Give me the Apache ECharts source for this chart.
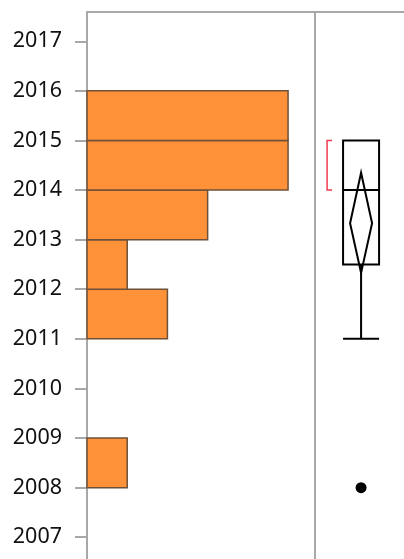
<!DOCTYPE html>
<html>
<head>
<meta charset="utf-8">
<script src="https://cdn.jsdelivr.net/npm/echarts@6/dist/echarts.min.js"></script>
<style>
  html, body { margin: 0; padding: 0; background: #fff; }
  #chart { width: 404px; height: 559px; }
</style>
</head>
<body>
<div id="chart"></div>
<script>
// histogram bins: [low year, high year, count]
var binLow = [2008, 2011, 2012, 2013, 2014, 2015];
var binHigh = [2009, 2012, 2013, 2014, 2015, 2016];
var binCount = [1, 2, 1, 3, 5, 5];

var yearTicks = [2007, 2008, 2009, 2010, 2011, 2012, 2013, 2014, 2015, 2016, 2017];

// box plot summary
var boxStats = {min: 2011, q1: 2012.5, median: 2014, q3: 2015, max: 2015};
var meanDiamond = {lo: 2012.33, mean: 2013.33, hi: 2014.35};
var shortestHalf = [2014, 2015];
var outliers = [2008];

var gray = '#a8a8a8';

var histData = binLow.map(function (lo, i) { return [lo, binHigh[i], binCount[i]]; });

var myChart = echarts.init(document.getElementById('chart'));

myChart.setOption({
    animation: false,
    grid: [
        {left: 87, top: 12, width: 228, height: 553, outerBoundsMode: 'none', show: true, borderColor: gray, borderWidth: 2},
        {left: 315, top: 12, width: 95, height: 553, outerBoundsMode: 'none', show: true, borderColor: gray, borderWidth: 2}
    ],
    xAxis: [
        {gridIndex: 0, type: 'value', min: 0, max: 5.67, show: false},
        {gridIndex: 1, type: 'value', min: 0, max: 1, show: false}
    ],
    yAxis: [
        {
            gridIndex: 0, type: 'value', min: 2006.44, max: 2017.59,
            splitLine: {show: false},
            axisLine: {show: true, lineStyle: {color: gray, width: 2}},
            axisTick: {show: true, length: 12, customValues: yearTicks, lineStyle: {color: gray, width: 2}},
            axisLabel: {
                customValues: yearTicks, margin: 25,
                formatter: function (v) { return String(v); },
                color: '#111', fontSize: 21.5, fontFamily: 'Noto Sans'
            }
        },
        {gridIndex: 1, type: 'value', min: 2006.44, max: 2017.59, show: false}
    ],
    series: [
        {
            type: 'custom',
            xAxisIndex: 0, yAxisIndex: 0,
            data: histData,
            renderItem: function (params, api) {
                var p1 = api.coord([0, api.value(1)]);
                var p2 = api.coord([api.value(2), api.value(0)]);
                return {
                    type: 'rect',
                    shape: {x: p1[0], y: p1[1], width: p2[0] - p1[0], height: p2[1] - p1[1]},
                    style: {fill: '#ff9238', stroke: '#6e5038', lineWidth: 1.5}
                };
            }
        },
        {
            type: 'custom',
            xAxisIndex: 1, yAxisIndex: 1,
            data: [[0.485]],
            renderItem: function (params, api) {
                var cx = api.coord([api.value(0), boxStats.median])[0];
                var y = function (v) { return api.coord([0, v])[1]; };
                var hw = 18, dw = 11;
                var ln = {stroke: '#000', lineWidth: 2, fill: null};
                var kids = [
                    {type: 'rect', shape: {x: cx - hw, y: y(boxStats.q3), width: 2 * hw, height: y(boxStats.q1) - y(boxStats.q3)}, style: ln},
                    {type: 'line', shape: {x1: cx - hw, y1: y(boxStats.median), x2: cx + hw, y2: y(boxStats.median)}, style: ln},
                    {type: 'line', shape: {x1: cx, y1: y(boxStats.q1), x2: cx, y2: y(boxStats.min)}, style: ln},
                    {type: 'line', shape: {x1: cx - hw, y1: y(boxStats.min), x2: cx + hw, y2: y(boxStats.min)}, style: ln},
                    {type: 'line', shape: {x1: cx, y1: y(boxStats.q3), x2: cx, y2: y(boxStats.max)}, style: ln},
                    {type: 'polygon', shape: {points: [
                        [cx, y(meanDiamond.hi)], [cx + dw, y(meanDiamond.mean)],
                        [cx, y(meanDiamond.lo)], [cx - dw, y(meanDiamond.mean)]
                    ]}, style: ln},
                    {type: 'polyline', shape: {points: [
                        [cx - 29, y(shortestHalf[1])], [cx - 34, y(shortestHalf[1])],
                        [cx - 34, y(shortestHalf[0])], [cx - 29, y(shortestHalf[0])]
                    ]}, style: {stroke: '#f03a4f', lineWidth: 1.5, fill: null}}
                ];
                return {type: 'group', children: kids};
            }
        },
        {
            type: 'scatter',
            xAxisIndex: 1, yAxisIndex: 1,
            data: outliers.map(function (v) { return [0.485, v]; }),
            symbolSize: 11,
            itemStyle: {color: '#000', opacity: 1}
        }
    ]
});
</script>
</body>
</html>
